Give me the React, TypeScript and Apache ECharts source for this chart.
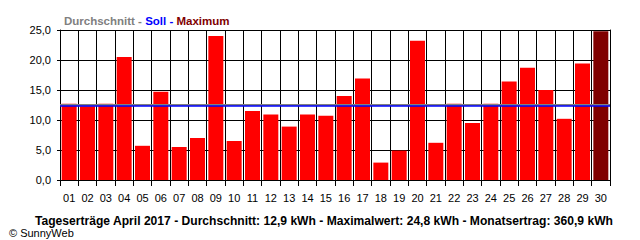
import React, { useEffect, useRef } from "react";
import * as echarts from "echarts";

const days: string[] = [
  "01","02","03","04","05","06","07","08","09","10",
  "11","12","13","14","15","16","17","18","19","20",
  "21","22","23","24","25","26","27","28","29","30",
];
const yields: number[] = [
  12.7, 12.3, 12.7, 20.5, 5.7, 14.7, 5.5, 7.0, 24.0, 6.5,
  11.5, 10.9, 8.9, 10.9, 10.7, 14.0, 16.9, 2.9, 4.9, 23.2,
  6.2, 12.7, 9.5, 12.7, 16.4, 18.7, 15.0, 10.2, 19.4, 24.8,
];
const avgValue = 12.6;
const sollValue = 12.3;
const yTicks = { min: 0, max: 25, interval: 5 };
const legendParts = ["Durchschnitt", "Soll", "Maximum"];
const footer =
  "Tageserträge April 2017 - Durchschnitt: 12,9 kWh - Maximalwert: 24,8 kWh - Monatsertrag: 360,9 kWh";
const copyright = "© SunnyWeb";

const FONT = "'Liberation Sans', Arial, sans-serif";

export default function App() {
  const ref = useRef<HTMLDivElement>(null);
  useEffect(() => {
    if (!ref.current) return;
    const chart = echarts.init(ref.current, undefined, { renderer: "svg" });
    const maxVal = Math.max(...yields);
    const lg = { fontWeight: "bold", fontSize: 11.5, fontFamily: FONT };
    chart.setOption({
      animation: false,
      backgroundColor: "#ffffff",
      textStyle: { fontFamily: FONT },
      title: [
        {
          text: `{a|${legendParts[0]}}{s| - }{b|${legendParts[1]}}{s2| - }{c|${legendParts[2]}}`,
          left: 59,
          top: 10,
          textStyle: {
            rich: {
              a: { color: "#808080", ...lg },
              s: { color: "#808080", ...lg },
              b: { color: "#0000ff", ...lg },
              s2: { color: "#0000ff", ...lg },
              c: { color: "#800000", ...lg },
            },
          },
        },
        {
          text: footer,
          left: 30,
          top: 210,
          textStyle: { color: "#000", fontWeight: "bold", fontSize: 12.1, fontFamily: FONT },
        },
        {
          text: copyright,
          left: 4,
          top: 222,
          textStyle: { color: "#000", fontWeight: "normal", fontSize: 11, fontFamily: FONT },
        },
      ],
      grid: { left: 60, right: 30, top: 30, bottom: 60, containLabel: false },
      xAxis: {
        type: "category",
        data: days,
        boundaryGap: true,
        axisLine: { show: true, lineStyle: { color: "#000", width: 1 } },
        axisTick: { show: true, length: 6, lineStyle: { color: "#000" } },
        axisLabel: { color: "#000", fontSize: 11, margin: 12, fontFamily: FONT, interval: 0 },
        splitLine: { show: true, interval: 0, lineStyle: { color: "#000", width: 1 } },
      },
      yAxis: [
        {
          type: "value",
          min: yTicks.min,
          max: yTicks.max,
          interval: yTicks.interval,
          axisLine: { show: true, lineStyle: { color: "#000", width: 1 } },
          axisTick: { show: true, length: 3, lineStyle: { color: "#000" } },
          axisLabel: {
            color: "#000",
            fontSize: 11,
            margin: 9,
            fontFamily: FONT,
            formatter: (v: number) => v.toFixed(1).replace(".", ","),
          },
          splitLine: { show: true, lineStyle: { color: "#000", width: 1 } },
        },
        {
          type: "value",
          position: "right",
          min: yTicks.min,
          max: yTicks.max,
          interval: yTicks.interval,
          axisLine: { show: true, lineStyle: { color: "#000", width: 1 } },
          axisTick: { show: false },
          axisLabel: { show: false },
          splitLine: { show: false },
        },
      ],
      series: [
        {
          type: "bar",
          barWidth: 15,
          data: yields.map((v) => ({
            value: v,
            itemStyle: { color: v === maxVal ? "#800000" : "#ff0000" },
          })),
          markLine: {
            silent: true,
            symbol: "none",
            label: { show: false },
            data: [
              { yAxis: avgValue, lineStyle: { color: "#808080", width: 2, type: "solid" } },
              { yAxis: sollValue, lineStyle: { color: "#0000ff", width: 1.5, type: "solid" } },
            ],
          },
        },
      ],
    });
    return () => chart.dispose();
  }, []);
  return (
    <div
      ref={ref}
      style={{ position: "absolute", left: 0, top: 0, width: 640, height: 240 }}
    />
  );
}
